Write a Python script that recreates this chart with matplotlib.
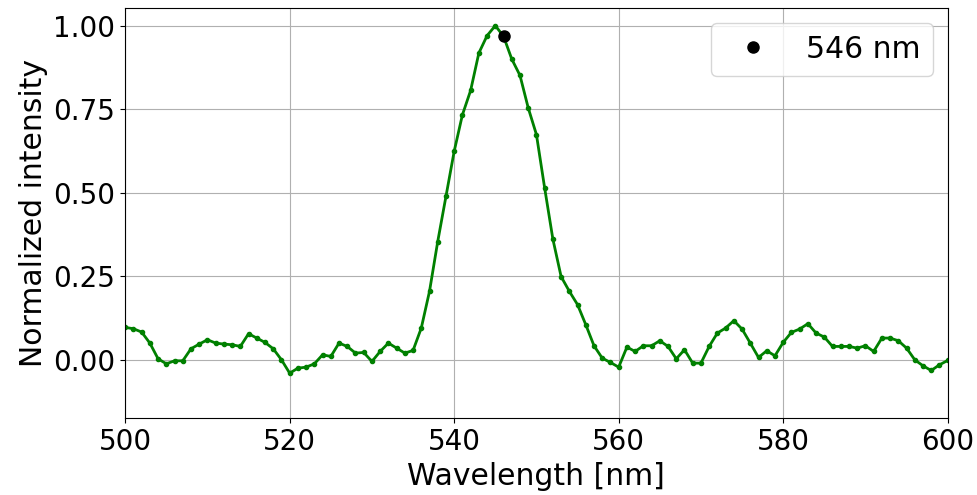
import matplotlib
matplotlib.use("Agg")
import matplotlib.pyplot as plt
import numpy as np

# spectrum sampled every nm, 500..600
wavelength = np.arange(500, 601)
intensity = [
    0.097, 0.093, 0.083, 0.050, 0.003, -0.012, -0.003, -0.003, 0.033, 0.047,   # 500-509
    0.060, 0.050, 0.047, 0.045, 0.040, 0.078, 0.065, 0.052, 0.033, 0.000,      # 510-519
    -0.040, -0.025, -0.022, -0.012, 0.015, 0.010, 0.050, 0.040, 0.020, 0.022,  # 520-529
    -0.005, 0.025, 0.050, 0.035, 0.020, 0.028, 0.095, 0.205, 0.354, 0.489,     # 530-539
    0.624, 0.733, 0.806, 0.918, 0.970, 1.000, 0.968, 0.900, 0.851, 0.754,      # 540-549
    0.674, 0.514, 0.361, 0.249, 0.205, 0.165, 0.105, 0.042, 0.005, -0.008,     # 550-559
    -0.022, 0.038, 0.025, 0.042, 0.042, 0.057, 0.040, 0.003, 0.030, -0.010,    # 560-569
    -0.010, 0.040, 0.080, 0.095, 0.117, 0.092, 0.050, 0.007, 0.027, 0.012,     # 570-579
    0.052, 0.082, 0.092, 0.108, 0.080, 0.068, 0.040, 0.040, 0.040, 0.035,      # 580-589
    0.042, 0.025, 0.065, 0.065, 0.057, 0.035, 0.000, -0.018, -0.032, -0.015,   # 590-599
    -0.002,                                                                    # 600
]

peak_wl = 546
peak_val = 0.968

fig, ax = plt.subplots(figsize=(9.78, 4.95), dpi=100)
ax.plot(wavelength, intensity, color='green', lw=2, marker='o', ms=3)
ax.plot([peak_wl], [peak_val], 'o', color='black', ms=8, label='546 nm', zorder=5)

ax.set_xlim(500, 600)
ax.set_ylim(-0.175, 1.053)
ax.set_yticks([0.0, 0.25, 0.5, 0.75, 1.0])
ax.tick_params(labelsize=20)
ax.set_xlabel('Wavelength [nm]', fontsize=21.5)
ax.set_ylabel('Normalized intensity', fontsize=21.5)
ax.grid(True)
ax.legend(loc='upper right', fontsize=21.5)

fig.subplots_adjust(left=0.128, right=0.969, top=0.984, bottom=0.155)
fig.savefig('out.png', dpi=100)
